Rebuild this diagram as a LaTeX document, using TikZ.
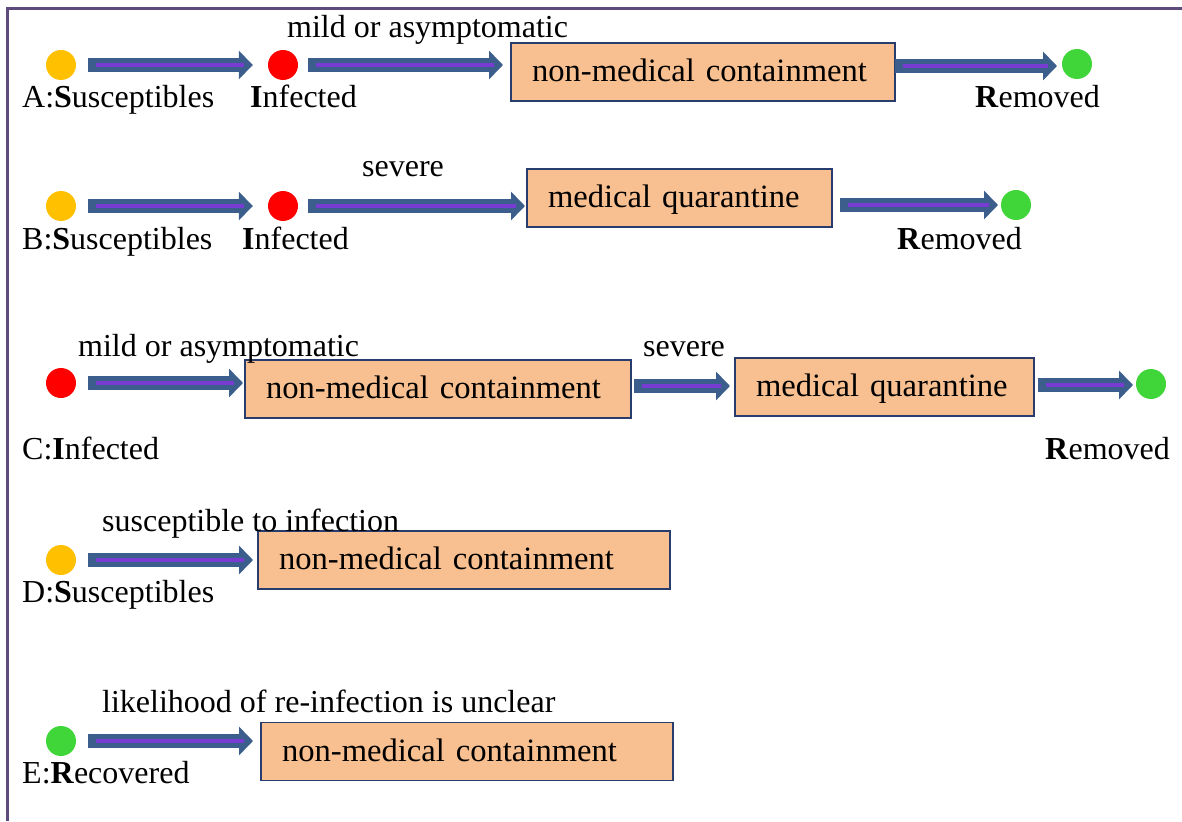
\documentclass[tikz,border=0pt]{standalone}
\usepackage{fontspec}
\setmainfont{Liberation Serif}
\usetikzlibrary{arrows.meta}
\definecolor{arrowblue}{RGB}{60,94,140}
\definecolor{corepurple}{RGB}{120,60,210}
\definecolor{boxfill}{RGB}{248,192,144}
\definecolor{boxline}{RGB}{40,60,110}
\definecolor{dotyellow}{RGB}{255,192,0}
\definecolor{dotred}{RGB}{255,0,0}
\definecolor{dotgreen}{RGB}{64,214,58}
\definecolor{framecol}{RGB}{94,75,125}
\newcommand{\fatarrow}[2]{%
  \draw[fatshaft] #1 -- #2;
  \draw[fatcore] #1 -- #2;}
\begin{document}
\begin{tikzpicture}[x=1pt,y=-1pt,
  dot/.style={circle, minimum size=30pt, inner sep=0pt},
  lbl/.style={anchor=base west, inner sep=0pt, font=\fontsize{32}{38}\selectfont},
  boxnode/.style={draw=boxline, line width=1.2pt, fill=boxfill, inner xsep=21pt, inner ysep=0pt,
    align=left, font=\fontsize{32.6}{38}\selectfont, text height=25pt, text depth=6pt, minimum height=58pt},
  fatshaft/.style={draw=arrowblue, line width=13.5pt, -{Triangle[length=14pt,width=28pt]}},
  fatcore/.style={draw=corepurple, line width=3.5pt, shorten <=8pt, shorten >=9pt},
]
\useasboundingbox (0,0) rectangle (1182,821);
\draw[framecol, line width=2.8pt] (7.5,821) -- (7.5,8.5) -- (1182,8.5);

% Row A
\node[dot, fill=dotyellow] (sA) at (61,65) {};
\node[dot, fill=dotred] (iA) at (283,65) {};
\node[boxnode, text width=342pt] (bA) at (703,72) {non-medical containment};
\node[dot, fill=dotgreen] (gA) at (1077,64) {};
\node[lbl] (lA1) at (22,108) {A:\textbf{S}usceptibles};
\node[lbl] (lA2) at (250,108) {\textbf{I}nfected};
\node[lbl] (lA3) at (975,108) {\textbf{R}emoved};
\node[lbl] (tA) at (287,38) {mild or asymptomatic};
\coordinate (aA2) at (503,65);
\coordinate (aA3s) at (895,66);
\coordinate (aA3e) at (1057,66);
\fatarrow{([xshift=12pt]sA.east)}{([xshift=-15pt]iA.west)}
\fatarrow{([xshift=10pt]iA.east)}{(aA2)}
\fatarrow{(aA3s)}{(aA3e)}

% Row B
\node[dot, fill=dotyellow] (sB) at (61,206) {};
\node[dot, fill=dotred] (iB) at (283,206) {};
\node[boxnode, text width=263pt] (bB) at (679.5,198) {medical quarantine};
\node[dot, fill=dotgreen] (gB) at (1016,205) {};
\node[lbl] (lB1) at (22,249) {B:\textbf{S}usceptibles};
\node[lbl] (lB2) at (242,249) {\textbf{I}nfected};
\node[lbl] (lB3) at (897,249) {\textbf{R}emoved};
\node[lbl] (tB) at (362,177) {severe};
\coordinate (aB2) at (525,206);
\coordinate (aB3s) at (840,205);
\coordinate (aB3e) at (998,205);
\fatarrow{([xshift=12pt]sB.east)}{([xshift=-15pt]iB.west)}
\fatarrow{([xshift=10pt]iB.east)}{(aB2)}
\fatarrow{(aB3s)}{(aB3e)}

% Row C
\node[dot, fill=dotred] (iC) at (61,383) {};
\node[boxnode, text width=344pt] (bC1) at (438,389) {non-medical containment};
\node[boxnode, text width=257pt] (bC2) at (884.5,387) {medical quarantine};
\node[dot, fill=dotgreen] (gC) at (1151,384) {};
\node[lbl] (lC1) at (22,459) {C:\textbf{I}nfected};
\node[lbl] (lC3) at (1045,459) {\textbf{R}emoved};
\node[lbl] (tC1) at (78,356) {mild or asymptomatic};
\node[lbl] (tC2) at (643,356) {severe};
\coordinate (aC1) at (243,383);
\coordinate (aC2s) at (634,386);
\coordinate (aC2e) at (730,386);
\coordinate (aC3s) at (1038,385);
\coordinate (aC3e) at (1133,385);
\fatarrow{([xshift=12pt]iC.east)}{(aC1)}
\fatarrow{(aC2s)}{(aC2e)}
\fatarrow{(aC3s)}{(aC3e)}

% Row D
\node[dot, fill=dotyellow] (sD) at (61,560) {};
\node[boxnode, text width=370pt] (bD) at (464,560) {non-medical containment};
\node[lbl] (lD1) at (22,602) {D:\textbf{S}usceptibles};
\node[lbl] (tD) at (102,531) {susceptible to infection};
\coordinate (aD1) at (253,560);
\fatarrow{([xshift=12pt]sD.east)}{(aD1)}

% Row E
\node[dot, fill=dotgreen] (sE) at (61,741) {};
\node[boxnode, text width=370pt] (bE) at (467,751.5) {non-medical containment};
\node[lbl] (lE1) at (22,783) {E:\textbf{R}ecovered};
\node[lbl] (tE) at (102,712) {likelihood of re-infection is unclear};
\coordinate (aE1) at (253,741);
\fatarrow{([xshift=12pt]sE.east)}{(aE1)}
\end{tikzpicture}
\end{document}
